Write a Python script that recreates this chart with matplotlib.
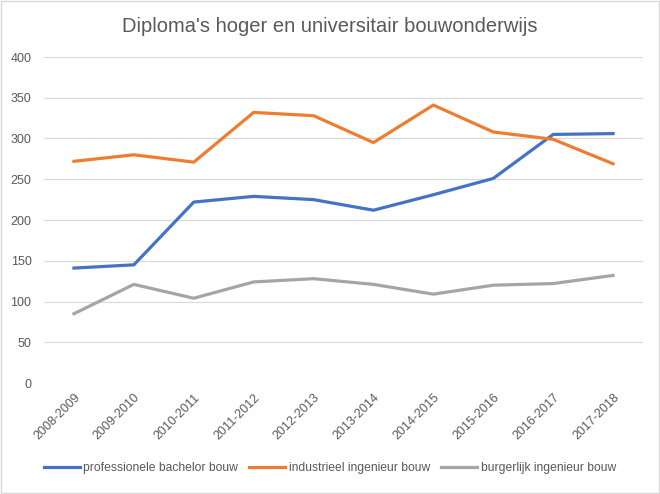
import matplotlib.pyplot as plt
from matplotlib.patches import Rectangle

years = ['2008-2009', '2009-2010', '2010-2011', '2011-2012', '2012-2013',
         '2013-2014', '2014-2015', '2015-2016', '2016-2017', '2017-2018']
prof_bachelor = [141, 145, 222, 229, 225, 212, 231, 251, 305, 306]
industrieel = [272, 280, 271, 332, 328, 295, 341, 308, 299, 269]
burgerlijk = [85, 121, 104, 124, 128, 121, 109, 120, 122, 132]

plt.rcParams['font.family'] = ['Liberation Sans', 'DejaVu Sans']
txt = '#595959'

fig = plt.figure(figsize=(6.6, 4.94), dpi=100)
ax = fig.add_axes([44 / 660, 1 - 383 / 494, 599 / 660, 326 / 494])

x = range(len(years))
ax.plot(x, prof_bachelor, color='#4472C4', lw=2.3, label='professionele bachelor bouw')
ax.plot(x, industrieel, color='#ED7D31', lw=2.3, label='industrieel ingenieur bouw')
ax.plot(x, burgerlijk, color='#A5A5A5', lw=2.3, label='burgerlijk ingenieur bouw')

ax.set_xlim(-0.5, len(years) - 0.5)
ax.set_ylim(0, 400)
ax.set_yticks(range(0, 401, 50))
ax.set_xticks(list(x))
ax.set_xticklabels(years, rotation=45, ha='right', rotation_mode='anchor')
ax.tick_params(length=0, colors=txt, labelsize=9)
ax.tick_params(axis='y', pad=9)
ax.tick_params(axis='x', pad=6)
ax.grid(axis='y', color='#d9d9d9', lw=0.8)
ax.set_axisbelow(True)
for s in ax.spines.values():
    s.set_visible(False)

fig.suptitle("Diploma's hoger en universitair bouwonderwijs", y=0.965, fontsize=14.5, color=txt)
fig.legend(loc='center', bbox_to_anchor=(0.5, 0.052), ncol=3, frameon=False,
           fontsize=8.7, labelcolor=txt, handlelength=3.0, handletextpad=0.3, columnspacing=0.9)

fig.patches.append(Rectangle((0.002, 0.002), 0.996, 0.996, transform=fig.transFigure,
                             fill=False, edgecolor='#d9d9d9', lw=1))

plt.savefig('out.png', dpi=100)
